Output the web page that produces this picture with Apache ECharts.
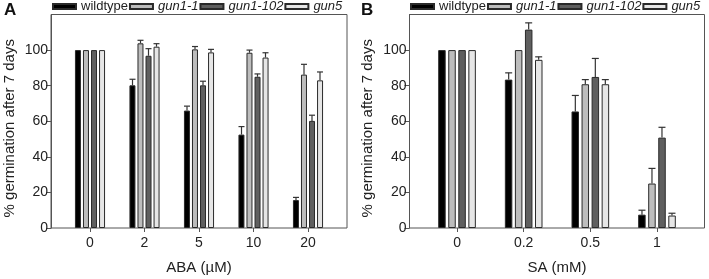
<!DOCTYPE html>
<html>
<head>
<meta charset="utf-8">
<script src="https://cdn.jsdelivr.net/npm/echarts@6/dist/echarts.min.js"></script>
<style>
  html, body {margin: 0; padding: 0; background: #fff;}
  #chart {width: 709px; height: 279px;}
</style>
</head>
<body>
<div id="chart"></div>
<script>
// categories
let names = ['wildtype', 'gun1-1', 'gun1-102', 'gun5'];
let abaDoses = ['0', '2', '5', '10', '20'];
let saDoses = ['0', '0.2', '0.5', '1'];
let yTicks = [0, 20, 40, 60, 80, 100];

// panel A, ABA (% germination, upper error)
let abaWildtype = [100, 80.2, 66, 52.5, 15.7];
let abaWildtypeErr = [0, 3.4, 2.5, 4.5, 1.5];
let abaGun11 = [100, 103.8, 100.4, 98.5, 86.2];
let abaGun11Err = [0, 1.7, 1.6, 1.5, 5.8];
let abaGun1102 = [100, 96.8, 80.2, 85, 60.2];
let abaGun1102Err = [0, 4, 2.3, 1.6, 3.2];
let abaGun5 = [100, 101.9, 98.7, 95.8, 83];
let abaGun5Err = [0, 1.7, 1.7, 2.7, 4.7];

// panel B, SA
let saWildtype = [100, 83.4, 65.5, 7.5];
let saWildtypeErr = [0, 3.8, 9, 2.5];
let saGun11 = [100, 100, 80.8, 25];
let saGun11Err = [0, 0, 2.6, 8.5];
let saGun1102 = [100, 111.5, 84.9, 50.8];
let saGun1102Err = [0, 3.8, 10.4, 5.8];
let saGun5 = [100, 94.5, 80.8, 7];
let saGun5Err = [0, 1.7, 2.6, 1.3];

let colors = ['#000000', '#bdbdbd', '#5f5f5f', '#e6e6e6'];
let font = 'Liberation Sans';
let axisColor = '#555';
let textColor = '#222';

let frameAxis = function (gridIndex) {
  return {
    type: 'value', gridIndex: gridIndex, min: 0, max: 120,
    axisLine: {show: true, lineStyle: {color: axisColor}},
    axisTick: {show: true, length: 5, customValues: yTicks, lineStyle: {color: axisColor}},
    axisLabel: {customValues: yTicks, margin: 3, fontSize: 14, color: textColor, fontFamily: font},
    splitLine: {show: false},
    name: '% germination after 7 days', nameLocation: 'middle', nameGap: 34, nameMoveOverlap: false,
    nameTextStyle: {fontSize: 15, color: textColor, fontFamily: font, padding: [0, 14, 0, 0]}
  };
};

let hiddenY = function (gridIndex) {
  return {type: 'value', gridIndex: gridIndex, min: 0, max: 120, show: false};
};

let catAxis = function (gridIndex, cats, title) {
  return {
    type: 'category', gridIndex: gridIndex, data: cats,
    axisLine: {show: false},
    axisTick: {show: true, alignWithLabel: true, length: 4, lineStyle: {color: axisColor}},
    axisLabel: {fontSize: 14, color: textColor, fontFamily: font, margin: 8},
    name: title, nameLocation: 'middle', nameGap: 32, nameMoveOverlap: false,
    nameTextStyle: {fontSize: 15, color: textColor, fontFamily: font}
  };
};

let barSeries = function (name, i, axisIndex, data, width, gap) {
  return {
    type: 'bar', name: name, xAxisIndex: axisIndex, yAxisIndex: axisIndex,
    data: data, barWidth: width, barGap: gap,
    itemStyle: {color: colors[i], borderColor: '#2a2a2a', borderWidth: 1},
    animation: false
  };
};

// upper error bars placed over bar i of each group
let errSeries = function (name, i, axisIndex, vals, errs, pitch, cap) {
  let d = [];
  vals.forEach(function (v, k) {
    if (errs[k] > 0) {
      d.push([k, v, errs[k]]);
    }
  });
  return {
    type: 'custom', name: name, xAxisIndex: axisIndex, yAxisIndex: axisIndex,
    data: d, encode: {x: 0, y: 1}, z: 5, animation: false,
    renderItem: function (params, api) {
      let base = api.coord([api.value(0), api.value(1)]);
      let top = api.coord([api.value(0), api.value(1) + api.value(2)]);
      let x = base[0] + (i - 1.5) * pitch;
      let st = {stroke: '#333', lineWidth: 1.2};
      return {
        type: 'group',
        children: [
          {type: 'line', shape: {x1: x, y1: base[1], x2: x, y2: top[1]}, style: st},
          {type: 'line', shape: {x1: x - cap / 2, y1: top[1], x2: x + cap / 2, y2: top[1]}, style: st}
        ]
      };
    }
  };
};

let abaVals = [abaWildtype, abaGun11, abaGun1102, abaGun5];
let abaErrs = [abaWildtypeErr, abaGun11Err, abaGun1102Err, abaGun5Err];
let saVals = [saWildtype, saGun11, saGun1102, saGun5];
let saErrs = [saWildtypeErr, saGun11Err, saGun1102Err, saGun5Err];

let series = [];
names.forEach(function (n, i) {
  series.push(barSeries(n, i, 1, abaVals[i], 6, '34%'));
  series.push(barSeries(n, i, 3, saVals[i], 7.5, '34%'));
});
names.forEach(function (n, i) {
  series.push(errSeries(n, i, 1, abaVals[i], abaErrs[i], 8, 6));
  series.push(errSeries(n, i, 3, saVals[i], saErrs[i], 10, 7));
});

let legend = function (left) {
  return {
    data: names, left: left, top: 0, width: 340, padding: 0,
    itemWidth: 23, itemHeight: 5, itemGap: 1, icon: 'rect',
    textStyle: {
      fontSize: 13, color: textColor, fontFamily: font, padding: [0, 0, 0, 0],
      rich: {i: {fontStyle: 'italic', fontSize: 13, fontFamily: font, color: textColor}}
    },
    formatter: function (n) {
      return n === 'wildtype' ? n : '{i|' + n + '}';
    }
  };
};

let chart = echarts.init(document.getElementById('chart'));
chart.setOption({
  animation: false,
  textStyle: {fontFamily: font},
  title: [
    {text: 'A', left: 4, top: 2, padding: 0, textStyle: {fontSize: 17, fontWeight: 'bold', color: '#111', fontFamily: font}},
    {text: 'B', left: 361, top: 2, padding: 0, textStyle: {fontSize: 17, fontWeight: 'bold', color: '#111', fontFamily: font}}
  ],
  legend: [legend(52), legend(410)],
  grid: [
    {left: 51, right: 362, top: 14.5, bottom: 51, show: true, borderColor: axisColor, borderWidth: 1, outerBoundsMode: 'none'},
    {left: 62.75, right: 373.75, top: 14.5, bottom: 51, outerBoundsMode: 'none'},
    {left: 409.5, right: 4.5, top: 14.5, bottom: 51, show: true, borderColor: axisColor, borderWidth: 1, outerBoundsMode: 'none'},
    {left: 423.7, right: 18.7, top: 14.5, bottom: 51, outerBoundsMode: 'none'}
  ],
  xAxis: [
    {type: 'value', gridIndex: 0, show: false},
    catAxis(1, abaDoses, 'ABA (µM)'),
    {type: 'value', gridIndex: 2, show: false},
    catAxis(3, saDoses, 'SA (mM)')
  ],
  yAxis: [frameAxis(0), hiddenY(1), frameAxis(2), hiddenY(3)],
  series: series
});
</script>
</body>
</html>
